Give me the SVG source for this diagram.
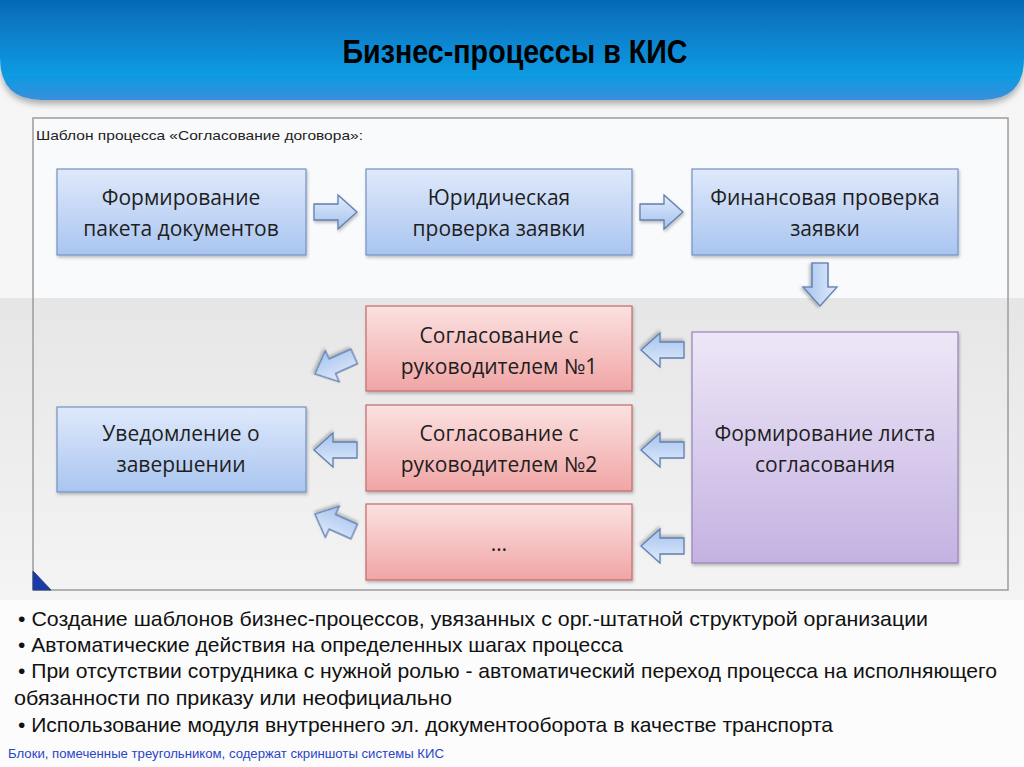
<svg xmlns="http://www.w3.org/2000/svg" width="1024" height="767" viewBox="0 0 1024 767">
<defs>
<linearGradient id="ban" x1="0" y1="0" x2="0" y2="1"><stop offset="0" stop-color="#0669b8"/><stop offset="0.75" stop-color="#0a9be2"/><stop offset="1" stop-color="#3a8fdc"/></linearGradient>
<linearGradient id="band" x1="0" y1="0" x2="0" y2="1"><stop offset="0" stop-color="#e6e6e6"/><stop offset="1" stop-color="#f4f4f4"/></linearGradient>
<linearGradient id="gb" x1="0" y1="0" x2="0" y2="1"><stop offset="0" stop-color="#dfe9fb"/><stop offset="1" stop-color="#a9c5f0"/></linearGradient>
<linearGradient id="gr" x1="0" y1="0" x2="0" y2="1"><stop offset="0" stop-color="#fbe1e1"/><stop offset="1" stop-color="#f1a5a5"/></linearGradient>
<linearGradient id="gp" x1="0" y1="0" x2="0" y2="1"><stop offset="0" stop-color="#eee7f7"/><stop offset="1" stop-color="#c4b2e2"/></linearGradient>
<linearGradient id="ga" x1="0" y1="0" x2="0" y2="1"><stop offset="0" stop-color="#e0ebfb"/><stop offset="1" stop-color="#a5c3ee"/></linearGradient>
<filter id="sh" x="-10%" y="-10%" width="120%" height="130%"><feDropShadow dx="1" dy="2" stdDeviation="1.5" flood-color="#000" flood-opacity="0.25"/></filter>
<filter id="bsh" x="-5%" y="-20%" width="110%" height="150%"><feDropShadow dx="0" dy="4" stdDeviation="3" flood-color="#000" flood-opacity="0.3"/></filter>
<path id="arr" d="M-21,-8 H3 V-17 L22,0 L3,17 V8 H-21 Z"/>
</defs>
<style>
.box{stroke-width:1.2;filter:url(#sh)}
.b{fill:url(#gb);stroke:#7391c4}
.r{fill:url(#gr);stroke:#c46a6a}
.p{fill:url(#gp);stroke:#9583b8}
.t{font-family:"Open Sans","Liberation Sans",Arial,sans-serif;font-size:21px;fill:#1e1e1e;text-anchor:middle}
.ar{fill:url(#ga);stroke:#607fb0;stroke-width:1.3;filter:url(#sh)}
.bl{font-family:"Liberation Sans Narrow","Liberation Sans",Arial,sans-serif;font-size:21px;fill:#111}
</style>
<rect width="1024" height="767" fill="#f6f6f6"/>
<rect x="0" y="298" width="1024" height="302" fill="url(#band)"/>
<rect x="0" y="600" width="1024" height="167" fill="#fcfcfc"/>
<rect x="33" y="118" width="975" height="180" fill="#f9fafb"/>
<rect x="33" y="118" width="975" height="472" fill="none" stroke="#9c9c9c" stroke-width="1.5"/>
<polygon points="33,571 33,590 51,590" fill="#1a3aa8" stroke="#2a3f80" stroke-width="1"/>
<g id="banner">
<path d="M0,0 H1024 V58 Q1024,100 982,100 H42 Q0,100 0,58 Z" fill="url(#ban)" filter="url(#bsh)"/>
<text x="515" y="63" font-family="Liberation Sans Narrow,Liberation Sans,Arial,sans-serif" font-size="33" font-weight="bold" text-anchor="middle" fill="#000" textLength="345" lengthAdjust="spacingAndGlyphs">Бизнес-процессы в КИС</text>
</g>
<text x="36" y="140" font-family="Liberation Sans,Arial,sans-serif" font-size="13" fill="#222" textLength="327" lengthAdjust="spacingAndGlyphs">Шаблон процесса «Согласование договора»:</text>
<g id="connectors">
<use href="#arr" class="ar" transform="translate(335,212)"/>
<use href="#arr" class="ar" transform="translate(661,212)"/>
<use href="#arr" class="ar" transform="translate(820,284) rotate(90)"/>
<use href="#arr" class="ar" transform="translate(663,350) rotate(180)"/>
<use href="#arr" class="ar" transform="translate(663,450) rotate(180)"/>
<use href="#arr" class="ar" transform="translate(663,546) rotate(180)"/>
<use href="#arr" class="ar" transform="translate(335,365) rotate(156)"/>
<use href="#arr" class="ar" transform="translate(336,450) rotate(180)"/>
<use href="#arr" class="ar" transform="translate(335,523) rotate(204)"/>
</g>
<g id="n1"><rect class="box b" x="57" y="169" width="249" height="86"/><text class="t" x="181" y="205">Формирование</text><text class="t" x="181" y="236">пакета документов</text></g>
<g id="n2"><rect class="box b" x="366" y="169" width="266" height="86"/><text class="t" x="499" y="205">Юридическая</text><text class="t" x="499" y="236">проверка заявки</text></g>
<g id="n3"><rect class="box b" x="692" y="169" width="266" height="86"/><text class="t" x="825" y="205">Финансовая проверка</text><text class="t" x="825" y="236">заявки</text></g>
<g id="n4"><rect class="box p" x="692" y="332" width="266" height="231"/><text class="t" x="825" y="441">Формирование листа</text><text class="t" x="825" y="472">согласования</text></g>
<g id="n5"><rect class="box r" x="366" y="306" width="266" height="85"/><text class="t" x="499" y="343">Согласование с</text><text class="t" x="499" y="374">руководителем №1</text></g>
<g id="n6"><rect class="box r" x="366" y="405" width="266" height="86"/><text class="t" x="499" y="441">Согласование с</text><text class="t" x="499" y="472">руководителем №2</text></g>
<g id="n7"><rect class="box r" x="366" y="504" width="266" height="76"/><text class="t" x="499" y="551">…</text></g>
<g id="n8"><rect class="box b" x="57" y="407" width="249" height="85"/><text class="t" x="181" y="441">Уведомление о</text><text class="t" x="181" y="472">завершении</text></g>
<g id="notes">
<text class="bl" x="18" y="626" textLength="910" lengthAdjust="spacingAndGlyphs">• Создание шаблонов бизнес-процессов, увязанных с орг.-штатной структурой организации</text>
<text class="bl" x="18" y="652" textLength="605" lengthAdjust="spacingAndGlyphs">• Автоматические действия на определенных шагах процесса</text>
<text class="bl" x="18" y="678" textLength="979" lengthAdjust="spacingAndGlyphs">• При отсутствии сотрудника с нужной ролью - автоматический переход процесса на исполняющего</text>
<text class="bl" x="14" y="705" textLength="438" lengthAdjust="spacingAndGlyphs">обязанности по приказу или неофициально</text>
<text class="bl" x="18" y="732" textLength="815" lengthAdjust="spacingAndGlyphs">• Использование модуля внутреннего эл. документооборота в качестве транспорта</text>
<text x="8" y="758" font-family="Liberation Sans Narrow,Liberation Sans,Arial,sans-serif" font-size="12" fill="#2a45c8" textLength="436" lengthAdjust="spacingAndGlyphs">Блоки, помеченные треугольником, содержат скриншоты системы КИС</text>
</g>
</svg>
